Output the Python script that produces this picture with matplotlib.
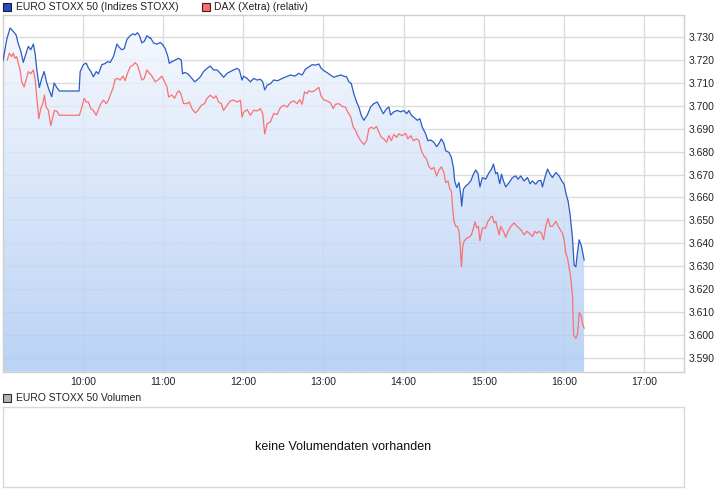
import numpy as np
import matplotlib.pyplot as plt
from matplotlib.patches import Rectangle
from matplotlib.colors import to_rgb

plt.rcParams['font.family'] = ['Liberation Sans', 'DejaVu Sans']

# minutes after 09:00 and index level, EURO STOXX 50
stoxx_min = [0, 2.8, 5.3, 7.7, 9.8, 11.5, 13.3, 15.2, 17.3, 19, 20.8, 22.7, 24, 25.3, 27.2, 29, 30.8,
             32.8, 34.5, 36.5, 38.3, 40.3, 42.2, 57, 57.8, 60.2, 62.3, 64, 65.8, 67.7, 69.8, 71.5, 74,
             76.5, 78.2, 80.3, 82.7, 85.3, 87.2, 89, 90.8, 92.8, 95.3, 97.3, 99, 100.7, 102.2, 104,
             105.8, 107.8, 109.7, 110.3, 112.7, 115.3, 117.8, 119.5, 121.5, 123.5, 124.5, 126.5, 129,
             131.5, 133.5, 134.5, 136, 138.5, 141.5, 143.5, 145.3, 147.8, 150.2, 152.8, 155.3, 157.7,
             160.3, 162.8, 165.2, 167.8, 170.3, 172.7, 175.3, 177, 179, 180.2, 182.8, 185.3, 187.7,
             190.3, 192.8, 194.5, 196, 197.8, 200.3, 202.7, 205.7, 209, 212, 215.3, 218.5, 221.5, 224,
             226.5, 229, 231.5, 234, 236.5, 238.3, 240.2, 242.8, 245.3, 247.7, 250.3, 252.8, 255.2,
             257.3, 259, 260.8, 262.7, 264.8, 266.5, 268.3, 270.2, 272.8, 275.3, 277.7, 280.3, 282.2,
             284.8, 287.3, 289, 290.3, 292.7, 295.3, 297.8, 300.2, 302.3, 304, 305.8, 307.7, 310.3,
             312.2, 314, 316.5, 318.2, 320.3, 322.7, 324.8, 326.5, 328.3, 330.2, 331.5, 334, 335.8,
             337.3, 338.3, 339.8, 341.5, 342.8, 343.5, 344.8, 346.5, 348.2, 350.3, 352.3, 354, 355.7,
             357.2, 359, 361.5, 364, 365.8, 367.3, 369, 370.3, 372, 373.3, 374.8, 376.5, 379, 381.5,
             384, 385.7, 387.8, 390.2, 392.8, 394.7, 396.5, 399, 400.7, 402.8, 404, 405.8, 407.8,
             409.7, 411.5, 414, 416.5, 418.5, 420.2, 421.5, 423.2, 424.7, 426.5, 427.7, 429, 430.3,
             431.5, 433.3, 435.2]
stoxx_val = [3719.7, 3729, 3734, 3732.5, 3731, 3727, 3724, 3719, 3723, 3726, 3724.5, 3727, 3723, 3716,
             3708, 3712, 3715, 3710, 3707, 3704, 3710, 3708, 3706.5, 3706.5, 3715, 3718, 3718.7, 3716.5,
             3715, 3712.7, 3715, 3714, 3718, 3718.5, 3719.3, 3719, 3721.5, 3727, 3725.5, 3724.5, 3725,
             3729, 3730.7, 3731.5, 3731, 3732, 3730.7, 3727.5, 3728.2, 3730.7, 3729.6, 3729.9, 3727.5,
             3727, 3727.7, 3726.8, 3725, 3721.5, 3718.6, 3719.3, 3720, 3720.8, 3720, 3714, 3714.6, 3714,
             3712, 3710.5, 3711.3, 3712.7, 3715, 3716.4, 3717.4, 3715.7, 3715.7, 3714.2, 3712.5, 3714.2,
             3715, 3715.7, 3716.4, 3715.7, 3711.3, 3713, 3712, 3710.5, 3712, 3711.3, 3711.6, 3710.5,
             3707, 3709, 3709.7, 3711.3, 3711, 3712, 3712.7, 3713.5, 3713, 3714.2, 3713.5, 3716, 3717,
             3718, 3717.8, 3718.3, 3716.4, 3715.4, 3714.5, 3713.5, 3712.5, 3713, 3713.5, 3713, 3712.7,
             3710.5, 3709.8, 3705.4, 3701.7, 3699.5, 3695.9, 3693.7, 3696, 3699.5, 3701, 3701.7, 3699.5,
             3696.6, 3698.8, 3699.5, 3696, 3697.4, 3698, 3697.4, 3698, 3696.6, 3698, 3695.9, 3695,
             3693.7, 3694.4, 3690.7, 3687.8, 3684.8, 3685.1, 3684.1, 3682.2, 3683.6, 3685.6, 3683.6,
             3680.4, 3679.7, 3677.5, 3673.1, 3667.2, 3664.3, 3666.5, 3661.3, 3656.2, 3663.6, 3665,
             3665.8, 3667.2, 3670.2, 3672, 3670.5, 3664.6, 3668.7, 3668, 3670.9, 3672.3, 3674.6, 3670.4,
             3670.9, 3666, 3670.2, 3667.2, 3664.6, 3666.5, 3668.7, 3669.4, 3668, 3669.4, 3667.2, 3668.7,
             3666, 3667.2, 3665.8, 3667.2, 3667.5, 3664.6, 3668.7, 3672.4, 3670.2, 3668.7, 3670.9,
             3669.4, 3667.2, 3665.8, 3662, 3658.4, 3652.5, 3642.2, 3630.5, 3629.7, 3636.4, 3641.5,
             3638.6, 3632.7]

# DAX rescaled to the same axis
dax_min = [3.2, 4.7, 6.5, 7.7, 9, 10.3, 11.5, 12.8, 14, 15.8, 17.3, 19, 20.8, 22.7, 24, 25.3, 26.8, 28.3,
           29.8, 31, 32.3, 34, 35.8, 37.3, 38.5, 40.3, 42.2, 57.2, 59, 60.8, 62.3, 64, 65.8, 67.7, 69.8,
           71.5, 73.3, 75.2, 77.3, 79, 80.3, 82.3, 84, 85.7, 87.8, 89.8, 91.5, 93.2, 95.3, 97.3, 99,
           100.7, 102.2, 104, 105.8, 107.8, 109.7, 111, 114, 116.5, 119, 121, 122.8, 124, 126.5, 128.5,
           130.3, 132, 133.5, 135.2, 137.8, 139.5, 141.5, 144, 146, 148.5, 151, 152.8, 155.3, 157.7,
           159.5, 161.5, 163.5, 165.2, 167.8, 170.3, 172.7, 175.3, 177.8, 179, 180.2, 182.8, 185.3,
           187.7, 190.3, 192.8, 194.5, 196, 197.8, 200.3, 202.7, 205.3, 207.8, 210.2, 212.8, 215.3,
           217.7, 220.3, 222.2, 224, 225.8, 227.8, 229, 231.5, 234, 236.5, 238.3, 240.2, 242.8, 245.3,
           247.3, 249, 251.5, 254, 256.5, 258.2, 260.3, 262.3, 264, 265.7, 267.8, 270.2, 272.3, 274,
           275.8, 277.7, 279.8, 281.5, 283.3, 285.2, 287.3, 289, 290.8, 292.7, 294.8, 296.5, 299,
           301.5, 303.2, 305.3, 307.3, 309.8, 311.5, 313.3, 315.2, 317.3, 319, 320.8, 322.7, 324.8,
           326.5, 328.3, 330.2, 331.5, 333.2, 334.7, 335.8, 336.5, 337.7, 339, 340.3, 341.5, 342.2,
           343.3, 344.3, 345.2, 347.3, 349, 350.8, 352.3, 353.5, 354.8, 356, 357.2, 359, 361.5, 363.2,
           365.3, 366.5, 367.7, 369, 370.3, 371.5, 372.8, 374.8, 376.5, 378.2, 380.3, 382.7, 384.8,
           386.5, 388.3, 390.2, 392.3, 394, 396.5, 398.3, 399.8, 401.5, 403.3, 404.8, 406.5, 408.2,
           409.7, 411.5, 414, 416.5, 419, 420.2, 421.5, 422.8, 424, 425.3, 426.5, 427.3, 429, 430.3,
           431.5, 432.8, 434, 435.2]
dax_val = [3720, 3723, 3721.5, 3723, 3720.8, 3721.5, 3718.6, 3715.7, 3710.5, 3708.3, 3711.3, 3715, 3714,
           3715.7, 3712, 3703.9, 3694.4, 3698.8, 3701, 3704.7, 3699.5, 3698, 3691.4, 3695, 3698,
           3697.7, 3695.9, 3695.9, 3699.3, 3703.3, 3701.7, 3701.7, 3698.8, 3698, 3695.9, 3698.5, 3701,
           3702.5, 3701, 3702.5, 3704.7, 3707.6, 3711.6, 3712, 3711.3, 3713, 3711, 3714.2, 3717.1,
           3717.8, 3718.9, 3717.8, 3715, 3711.3, 3712, 3715.7, 3714.2, 3713.5, 3710.5, 3711.5, 3713,
           3710.5, 3708.3, 3703.9, 3704.7, 3703.3, 3705.7, 3706.6, 3704.7, 3701, 3701, 3701.7, 3698.8,
           3696.9, 3698, 3700.3, 3701, 3703.3, 3704.7, 3703.3, 3704.4, 3701.7, 3701, 3698, 3700.3,
           3702.2, 3702.5, 3701.7, 3702.5, 3695.1, 3697.2, 3698.4, 3695.9, 3698.1, 3697.8, 3698.8,
           3696.6, 3687.8, 3692.2, 3693, 3696.6, 3696.3, 3699.3, 3700.3, 3699.5, 3701.5, 3702.2, 3701,
           3702.7, 3700.7, 3706.1, 3705.4, 3706.6, 3706.1, 3706.9, 3708.1, 3704.2, 3702.7, 3702.1,
           3701.3, 3698.8, 3700.7, 3701, 3699.8, 3699.5, 3697.3, 3695.4, 3690.7, 3689.3, 3687, 3684.8,
           3683.1, 3684.8, 3690, 3690.7, 3690, 3691, 3688.5, 3686.3, 3685.6, 3684.1, 3687, 3684.8,
           3687.5, 3686.3, 3687.8, 3687, 3688, 3685.6, 3687, 3684.8, 3685.6, 3684.8, 3680.4, 3678.2,
           3676.7, 3673.4, 3672.3, 3673.1, 3669.4, 3671.9, 3673.4, 3670.9, 3666.5, 3667.2, 3663.6,
           3662.9, 3657, 3649.6, 3647.4, 3647.4, 3645.2, 3640.8, 3629.7, 3638.6, 3640.8, 3642.3,
           3642.6, 3643.7, 3646.7, 3649.3, 3646.7, 3647.4, 3641.1, 3646.7, 3646.7, 3649.6, 3651.4,
           3651.8, 3648.9, 3649.6, 3646.7, 3643.7, 3647.4, 3645.2, 3642.6, 3645.2, 3647.4, 3648.9,
           3647.4, 3646.7, 3645.5, 3643.7, 3645.2, 3644.4, 3643, 3645.2, 3644.4, 3645.2, 3644.4,
           3641.5, 3647.4, 3650.8, 3647.4, 3647.4, 3649.6, 3646.7, 3644.4, 3641.5, 3635.6, 3633.5,
           3629.3, 3624.6, 3616.6, 3599.7, 3598.5, 3600.5, 3609.7, 3608.5, 3604.8, 3602.9]

hour_ticks = [60, 120, 180, 240, 300, 360, 420, 480]
hour_labels = ["10:00", "11:00", "12:00", "13:00", "14:00", "15:00", "16:00", "17:00"]
level_ticks = list(range(3590, 3731, 10))

W, H = 726, 496
fig = plt.figure(figsize=(W / 100, H / 100), dpi=100)

def box(left, top, right, bottom):
    return [left / W, 1 - bottom / H, (right - left) / W, (bottom - top) / H]

ax = fig.add_axes(box(3, 15, 684, 371.7))
ax.set_xlim(0, 510)
ax.set_ylim(3583.9, 3739.7)

# grid
for t in hour_ticks:
    ax.axvline(t, color="#dcdcdc", lw=1, zorder=1)
for v in level_ticks:
    ax.axhline(v, color="#dcdcdc", lw=1, zorder=1)

# gradient fill under the EURO STOXX line (semi transparent so the grid shows)
poly = ax.fill_between(stoxx_min, stoxx_val, 3583.9, color="none", lw=0)
top_c = np.array(to_rgb("#f6f8fe"))
bot_c = np.array(to_rgb("#a9c8f3"))
n = 256
frac = np.linspace(0, 1, n)[:, None]
grad = np.zeros((n, 1, 4))
grad[:, 0, :3] = top_c + (bot_c - top_c) * frac
grad[:, 0, 3] = 0.8
im = ax.imshow(grad, extent=[0, 510, 3583.9, 3739.7], aspect="auto", origin="upper", zorder=2,
               interpolation="bilinear")
im.set_clip_path(poly.get_paths()[0], transform=ax.transData)

ax.plot(dax_min, dax_val, color="#f87272", lw=0.9, zorder=3)
ax.plot(stoxx_min, stoxx_val, color="#2a5dc4", lw=0.9, zorder=4)

ax.set_xticks(hour_ticks)
ax.set_xticklabels(hour_labels)
ax.set_yticks(level_ticks)
ax.set_yticklabels([f"{v / 1000:.3f}" for v in level_ticks])
ax.yaxis.tick_right()
ax.tick_params(axis="both", length=0, labelsize=7.5, colors="#222222")
ax.tick_params(axis="x", pad=3.5)
ax.tick_params(axis="y", pad=3)
for s in ax.spines.values():
    s.set_color("#cfcfcf")
    s.set_linewidth(1)

# legend on top
fig.add_artist(Rectangle((3 / W, 1 - 11 / H), 8 / W, 8 / H, transform=fig.transFigure,
                         facecolor="#2050b8", edgecolor="#1a1a40", lw=0.8))
fig.text(16 / W, 1 - 6.5 / H, "EURO STOXX 50 (Indizes STOXX)", fontsize=7.5, va="center",
         color="#222222")
fig.add_artist(Rectangle((202 / W, 1 - 11 / H), 8 / W, 8 / H, transform=fig.transFigure,
                         facecolor="#ff6b6b", edgecolor="#402020", lw=0.8))
fig.text(214 / W, 1 - 6.5 / H, "DAX (Xetra) (relativ)", fontsize=7.5, va="center", color="#222222")

# volume panel
fig.add_artist(Rectangle((3 / W, 1 - 402 / H), 8 / W, 8 / H, transform=fig.transFigure,
                         facecolor="#b4b4b4", edgecolor="#303030", lw=0.8))
fig.text(16 / W, 1 - 398 / H, "EURO STOXX 50 Volumen", fontsize=7.5, va="center", color="#222222")

ax2 = fig.add_axes(box(3, 406.7, 684, 486.7))
ax2.set_xticks([])
ax2.set_yticks([])
for s in ax2.spines.values():
    s.set_color("#d8d8d8")
    s.set_linewidth(1)
ax2.text(0.5, 0.5, "keine Volumendaten vorhanden", transform=ax2.transAxes, ha="center",
         va="center", fontsize=9, color="#111111")

fig.savefig("out.png", dpi=100)
